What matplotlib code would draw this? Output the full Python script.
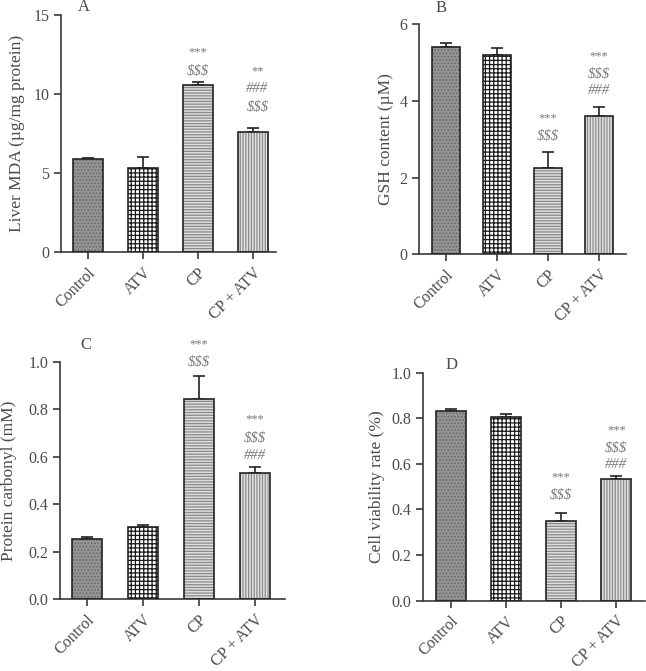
import numpy as np
import matplotlib
matplotlib.use("Agg")
import matplotlib.pyplot as plt

plt.rcParams['font.family'] = ['Liberation Serif', 'DejaVu Serif']
plt.rcParams['hatch.linewidth'] = 0.9

# dados
grupos = ['Control', 'ATV', 'CP', 'CP + ATV']

mda_media = [5.90, 5.33, 10.57, 7.58]
mda_erro = [0.05, 0.70, 0.17, 0.27]

gsh_media = [5.40, 5.20, 2.24, 3.62]
gsh_erro = [0.11, 0.17, 0.44, 0.22]

carbonil_media = [0.255, 0.304, 0.844, 0.530]
carbonil_erro = [0.007, 0.009, 0.096, 0.025]

viab_media = [0.832, 0.804, 0.348, 0.534]
viab_erro = [0.009, 0.013, 0.037, 0.013]

# marcas de significancia: (indice do grupo, texto, altura)
sig_A = [(2, '***', 12.66), (2, '$$$', 11.46), (3, '**', 11.46), (3, '###', 10.32), (3, '$$$', 9.18)]
sig_B = [(2, '***', 3.56), (2, '$$$', 3.07), (3, '***', 5.16), (3, '$$$', 4.69), (3, '###', 4.27)]
sig_C = [(2, '***', 1.074), (2, '$$$', 0.996), (3, '***', 0.757), (3, '$$$', 0.677), (3, '###', 0.604)]
sig_D = [(2, '***', 0.542), (2, '$$$', 0.462), (3, '***', 0.746), (3, '$$$', 0.668), (3, '###', 0.596)]

# estilo de cada barra
faces = ['#969696', '#ffffff', '#dedede', '#e2e2e2']
hcores = ['#6a6a6a', '#1a1a1a', '#8a8a8a', '#8a8a8a']
hatches = ['.....', '++++', '------', '||||||']

fig = plt.figure(figsize=(6.46, 6.71), dpi=100)

paineis = [
    # pos, media, erro, sig, ylim, yticks, ylabel, letra, xlim, letra_pos, label_x, ticklabels
    ([0.0944, 0.6244, 0.333, 0.3532], mda_media, mda_erro, sig_A, (0, 15), [0, 5, 10, 15],
     'Liver MDA (µg/mg protein)', 'A', (-0.49, 3.42), (-0.07, 15.5), -0.167, ['0', '5', '10', '15']),
    ([0.649, 0.621, 0.3195, 0.3428], gsh_media, gsh_erro, sig_B, (0, 6), [0, 2, 4, 6],
     'GSH content (µM)', 'B', (-0.52, 3.52), (-0.1, 6.43), -0.123, ['0', '2', '4', '6']),
    ([0.0929, 0.1069, 0.3483, 0.3541], carbonil_media, carbonil_erro, sig_C, (0, 1), [0, 0.2, 0.4, 0.6, 0.8, 1.0],
     'Protein carbonyl (mM)', 'C', (-0.48, 3.54), (-0.02, 1.07), -0.191, ['0.0', '0.2', '0.4', '0.6', '0.8', '1.0']),
    ([0.6548, 0.1048, 0.3437, 0.3398], viab_media, viab_erro, sig_D, (0, 1), [0, 0.2, 0.4, 0.6, 0.8, 1.0],
     'Cell viability rate (%)', 'D', (-0.50, 3.52), (0.02, 1.034), -0.171, ['0.0', '0.2', '0.4', '0.6', '0.8', '1.0']),
]

x = np.arange(len(grupos))
cor_eixo = '#3a3a3a'
cor_texto = '#4a4a4a'

for pos, media, erro, sig, ylim, yticks, ylabel, letra, xlim, lpos, labx, ytl in paineis:
    ax = fig.add_axes(pos)
    # preenchimento + hachura
    for i in range(len(grupos)):
        ax.bar(x[i], media[i], width=0.54, color=faces[i], edgecolor=hcores[i],
               hatch=hatches[i], linewidth=0, zorder=2)
    # contorno
    ax.bar(x, media, width=0.54, fill=False, edgecolor='#222222', linewidth=1.2, zorder=3)
    ax.errorbar(x, media, yerr=[np.zeros(len(media)), erro], fmt='none',
                ecolor='#222222', elinewidth=1.2, capsize=4, capthick=1.2, zorder=1)

    for i, txt, h in sig:
        if txt.startswith('*'):
            estilo, tam = 'normal', 9
        else:
            estilo, tam = 'italic', 10.5
        dx = 0.08 if (letra == 'A' and i == 3) else 0.0
        ax.text(x[i] + dx, h, txt, ha='center', va='center', fontsize=tam,
                color='#777777', style=estilo, clip_on=False)

    ax.text(lpos[0], lpos[1], letra, ha='center', va='center', fontsize=12,
            color=cor_texto, clip_on=False)

    ax.set_xlim(*xlim)
    ax.set_ylim(*ylim)
    ax.set_yticks(yticks)
    ax.set_yticklabels(ytl)
    ax.set_xticks(x)
    ax.set_xticklabels(grupos, rotation=45, ha='right', rotation_mode='anchor')
    ax.set_ylabel(ylabel, fontsize=12.5, color=cor_texto)
    ax.yaxis.set_label_coords(labx, 0.5)

    ax.spines['top'].set_visible(False)
    ax.spines['right'].set_visible(False)
    for s in ['left', 'bottom']:
        ax.spines[s].set_color(cor_eixo)
        ax.spines[s].set_linewidth(1.2)
    ax.tick_params(axis='y', labelsize=11.5, colors=cor_eixo, labelcolor=cor_texto, width=1.2, length=5)
    ax.tick_params(axis='x', labelsize=11.5, colors=cor_eixo, labelcolor=cor_texto, width=1.2, length=5, pad=4)

plt.savefig('out.png', dpi=100)
